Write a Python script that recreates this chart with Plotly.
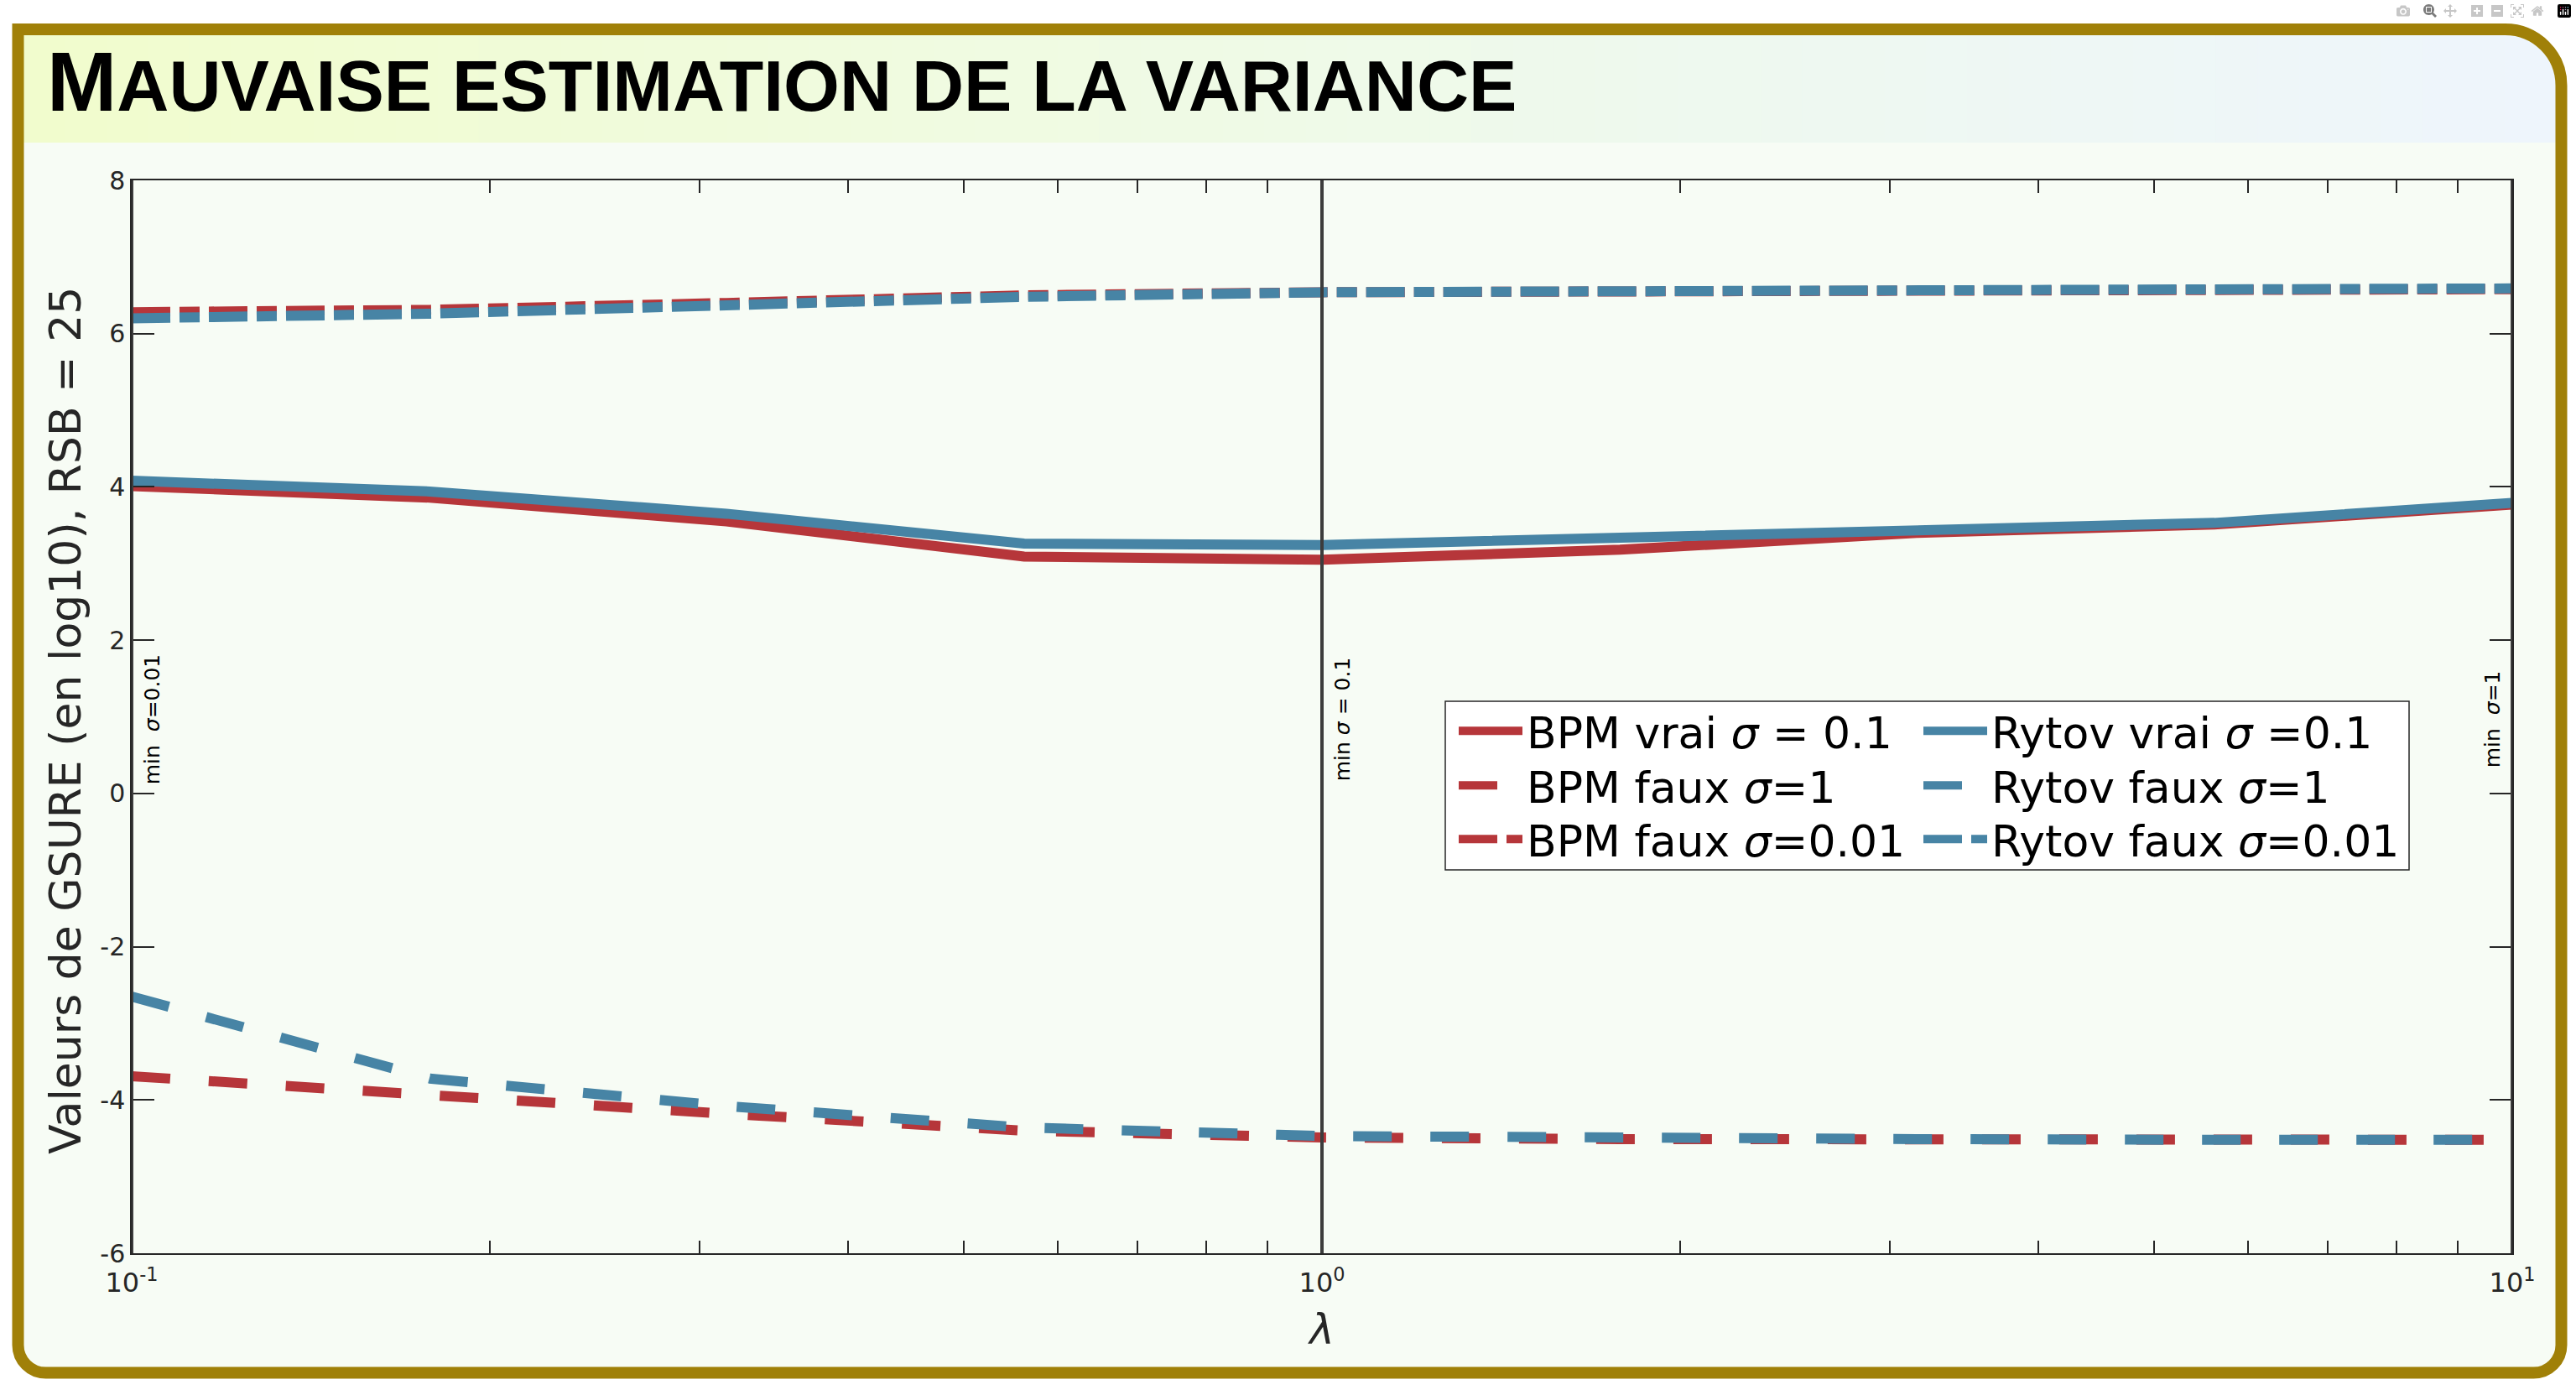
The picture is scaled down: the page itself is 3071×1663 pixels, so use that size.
import math
import plotly.graph_objects as go

# ---------------- data ----------------
lam = [0.1, 0.178, 0.316, 0.562, 1.0, 1.78, 3.16, 5.62, 10.0]

bpm_vrai = [4.01, 3.86, 3.55, 3.09, 3.05, 3.18, 3.40, 3.51, 3.77]
rytov_vrai = [4.08, 3.94, 3.65, 3.26, 3.24, 3.33, 3.43, 3.53, 3.79]
bpm_faux_1 = [-3.69, -3.95, -4.18, -4.40, -4.49, -4.51, -4.52, -4.52, -4.52]
rytov_faux_1 = [-2.65, -3.72, -4.08, -4.36, -4.47, -4.50, -4.51, -4.52, -4.52]
bpm_faux_001 = [6.28, 6.31, 6.40, 6.50, 6.54, 6.55, 6.56, 6.57, 6.58]
rytov_faux_001 = [6.20, 6.26, 6.37, 6.48, 6.54, 6.55, 6.56, 6.58, 6.59]

series_names = [
    "BPM vrai <i>σ</i> = 0.1",
    "Rytov vrai <i>σ</i> =0.1",
    "BPM faux <i>σ</i>=1",
    "Rytov faux <i>σ</i>=1",
    "BPM faux <i>σ</i>=0.01",
    "Rytov faux <i>σ</i>=0.01",
]
series_values = [bpm_vrai, rytov_vrai, bpm_faux_1, rytov_faux_1, bpm_faux_001, rytov_faux_001]

min_lambda = [0.1, 1.0, 10.0]
min_labels = ["min\u00a0\u00a0<i>σ</i>=0.01", "min <i>σ</i> = 0.1", "min\u00a0\u00a0<i>σ</i>=1"]
min_label_y = 0.97

y_ticks = [-6, -4, -2, 0, 2, 4, 6, 8]
y_tick_text = ["-6", "-4", "-2", "0", "2", "4", "6", "8"]
x_tick_vals = [0.1, 1, 10]
x_tick_text = ["10<sup>-1</sup>", "10<sup>0</sup>", "10<sup>1</sup>"]
x_minor_vals = [0.2, 0.3, 0.4, 0.5, 0.6, 0.7, 0.8, 0.9, 2, 3, 4, 5, 6, 7, 8, 9]

title_first = "M"
title_rest = "AUVAISE ESTIMATION DE LA VARIANCE"
x_title = "<i>λ</i>"
y_title = "Valeurs de GSURE (en log10), RSB = 25"

# ---------------- styling ----------------
RED = "#B6363A"
BLUE = "#4784A5"
series_colors = [RED, BLUE, RED, BLUE, RED, BLUE]
DASH_SOLID = "solid"
DASH_DASH = "46px,46px"
DASH_DOT = "46px,11px,24px,11px"
series_dash = [DASH_SOLID, DASH_SOLID, DASH_DASH, DASH_DASH, DASH_DOT, DASH_DOT]

GOLD = "#A08008"
BODY_BG = "#F7FCF5"
AXC = "#262626"
FONT = "DejaVu Sans"

W, H = 3071, 1663
L, R, T, B = 157, 2995, 215, 1494
PW, PH = R - L, B - T


def px(xp):
    return (xp - L) / PW


def py(yp):
    return (B - yp) / PH


def pt(xp, yp):
    return f"{px(xp):.6f},{py(yp):.6f}"


def rounded_path(x0, y0, x1, y1, rtl, rtr, rbr, rbl):
    k = 0.5523
    s = "M" + pt(x0 + rtl, y0)
    s += " L" + pt(x1 - rtr, y0)
    if rtr:
        s += " C" + pt(x1 - rtr + k * rtr, y0) + " " + pt(x1, y0 + rtr - k * rtr) + " " + pt(x1, y0 + rtr)
    s += " L" + pt(x1, y1 - rbr)
    if rbr:
        s += " C" + pt(x1, y1 - rbr + k * rbr) + " " + pt(x1 - rbr + k * rbr, y1) + " " + pt(x1 - rbr, y1)
    s += " L" + pt(x0 + rbl, y1)
    if rbl:
        s += " C" + pt(x0 + rbl - k * rbl, y1) + " " + pt(x0, y1 - rbl + k * rbl) + " " + pt(x0, y1 - rbl)
    s += " L" + pt(x0, y0 + rtl)
    if rtl:
        s += " C" + pt(x0, y0 + rtl - k * rtl) + " " + pt(x0 + rtl - k * rtl, y0) + " " + pt(x0 + rtl, y0)
    s += " Z"
    return s


# legend slots: one legend per entry, two columns x three rows
legend_ids = ["legend", "legend2", "legend3", "legend4", "legend5", "legend6"]
legend_col_x = [1734, 2288]
legend_row_center = [872, 937, 1001]

fig = go.Figure()

for i, (name, vals, col, dash) in enumerate(zip(series_names, series_values, series_colors, series_dash)):
    fig.add_trace(go.Scatter(
        x=lam, y=vals, mode="lines", name=name, legend=legend_ids[i],
        line=dict(color=col, width=12, dash=dash),
    ))

shapes = []
fx0, fy0, fx1, fy1 = 21.5, 35, 3053.5, 1636.5
shapes.append(dict(type="path", xref="paper", yref="paper", layer="below",
                   path=rounded_path(fx0, fy0, fx1, fy1, 0, 67, 33, 33),
                   fillcolor=BODY_BG, line=dict(width=0)))
stops = [(0.0, (241, 252, 205)), (0.35, (240, 251, 224)), (0.65, (238, 249, 238)), (1.0, (238, 245, 252))]


def grad(t):
    for (t0, c0), (t1, c1) in zip(stops[:-1], stops[1:]):
        if t <= t1:
            f = (t - t0) / (t1 - t0)
            return "rgb(%d,%d,%d)" % tuple(round(a + (b - a) * f) for a, b in zip(c0, c1))
    return "rgb(%d,%d,%d)" % stops[-1][1]


bx0, bx1, by0, by1 = 28, 2987, 42, 170
nstrip = 60
for i in range(nstrip):
    xa = bx0 + (bx1 - bx0) * i / nstrip
    xb = bx0 + (bx1 - bx0) * (i + 1) / nstrip + 1
    shapes.append(dict(type="rect", xref="paper", yref="paper", layer="below",
                       x0=px(xa), x1=px(xb), y0=py(by1), y1=py(by0),
                       fillcolor=grad(i / nstrip), line=dict(width=0)))
r_in = 60
k = 0.5523
cp = "M" + pt(2986, 42) + " L" + pt(3047 - r_in, 42)
cp += " C" + pt(3047 - r_in + k * r_in, 42) + " " + pt(3047, 42 + r_in - k * r_in) + " " + pt(3047, 42 + r_in)
cp += " L" + pt(3047, 170) + " L" + pt(2986, 170) + " Z"
shapes.append(dict(type="path", xref="paper", yref="paper", layer="below",
                   path=cp, fillcolor=grad(1.0), line=dict(width=0)))
shapes.append(dict(type="path", xref="paper", yref="paper", layer="below",
                   path=rounded_path(fx0, fy0, fx1, fy1, 0, 67, 33, 33),
                   fillcolor="rgba(0,0,0,0)", line=dict(color=GOLD, width=14)))
shapes.append(dict(type="rect", xref="paper", yref="paper", layer="above",
                   x0=px(1723), x1=px(2872), y0=py(1037), y1=py(836),
                   fillcolor="white", line=dict(color=AXC, width=1.5)))
fig.update_layout(shapes=shapes)

for xv in min_lambda:
    fig.add_vline(x=xv, line=dict(color="#3C3C3C", width=4), layer="above")

annotations = []
shifts = [24, 24, -24]
for xv, txt, sh in zip(min_lambda, min_labels, shifts):
    annotations.append(dict(x=math.log10(xv), y=min_label_y, xref="x", yref="y", text=txt, textangle=-90,
                            showarrow=False, xshift=sh, font=dict(family=FONT, size=25, color="black")))
annotations.append(dict(xref="paper", yref="paper", x=px(54), y=py(97), xanchor="left", yanchor="middle",
                        text="<b><span style='font-size:100px'>" + title_first + "</span>" + title_rest + "</b>",
                        showarrow=False, font=dict(family="Liberation Sans", size=86, color="black")))
annotations.append(dict(xref="paper", yref="paper", x=px(78), y=py(859), xanchor="center", yanchor="middle",
                        text=y_title, textangle=-90, showarrow=False,
                        font=dict(family=FONT, size=52, color=AXC)))
fig.update_layout(annotations=annotations)

legend_layout = {}
for i, lid in enumerate(legend_ids):
    cx = legend_col_x[i % 2]
    cy = legend_row_center[i // 2]
    legend_layout[lid] = dict(x=px(cx), y=py(cy - 41), xanchor="left", yanchor="top", orientation="v",
                              itemwidth=76, bgcolor="rgba(0,0,0,0)", borderwidth=0,
                              font=dict(family=FONT, size=52, color="black"), tracegroupgap=0)

fig.update_layout(
    width=W, height=H,
    margin=dict(l=L, r=W - R, t=T, b=H - B, autoexpand=False),
    paper_bgcolor="white",
    plot_bgcolor="rgba(0,0,0,0)",
    font=dict(family=FONT, color=AXC),
    showlegend=True,
    xaxis=dict(type="log", range=[-1, 1], tickvals=x_tick_vals, ticktext=x_tick_text,
               ticks="inside", ticklen=15, tickwidth=1.5, tickcolor=AXC,
               minor=dict(tickvals=x_minor_vals, ticks="inside", ticklen=15, tickwidth=1.5, tickcolor=AXC),
               showline=True, linecolor=AXC, linewidth=1.5, mirror="ticks",
               showgrid=False, zeroline=False, ticklabelstandoff=6,
               tickfont=dict(family=FONT, size=32, color=AXC),
               title=dict(text=x_title, font=dict(family=FONT, size=50, color=AXC), standoff=20)),
    yaxis=dict(range=[-6, 8], tickvals=y_ticks, ticktext=y_tick_text,
               ticks="inside", ticklen=27, tickwidth=1.5, tickcolor=AXC,
               showline=True, linecolor=AXC, linewidth=1.5, mirror="ticks",
               showgrid=False, zeroline=False,
               tickfont=dict(family=FONT, size=30, color=AXC)),
    **legend_layout,
)

fig.write_html("out.html", post_script="document.body.style.margin='0';document.body.style.overflow='hidden';")
